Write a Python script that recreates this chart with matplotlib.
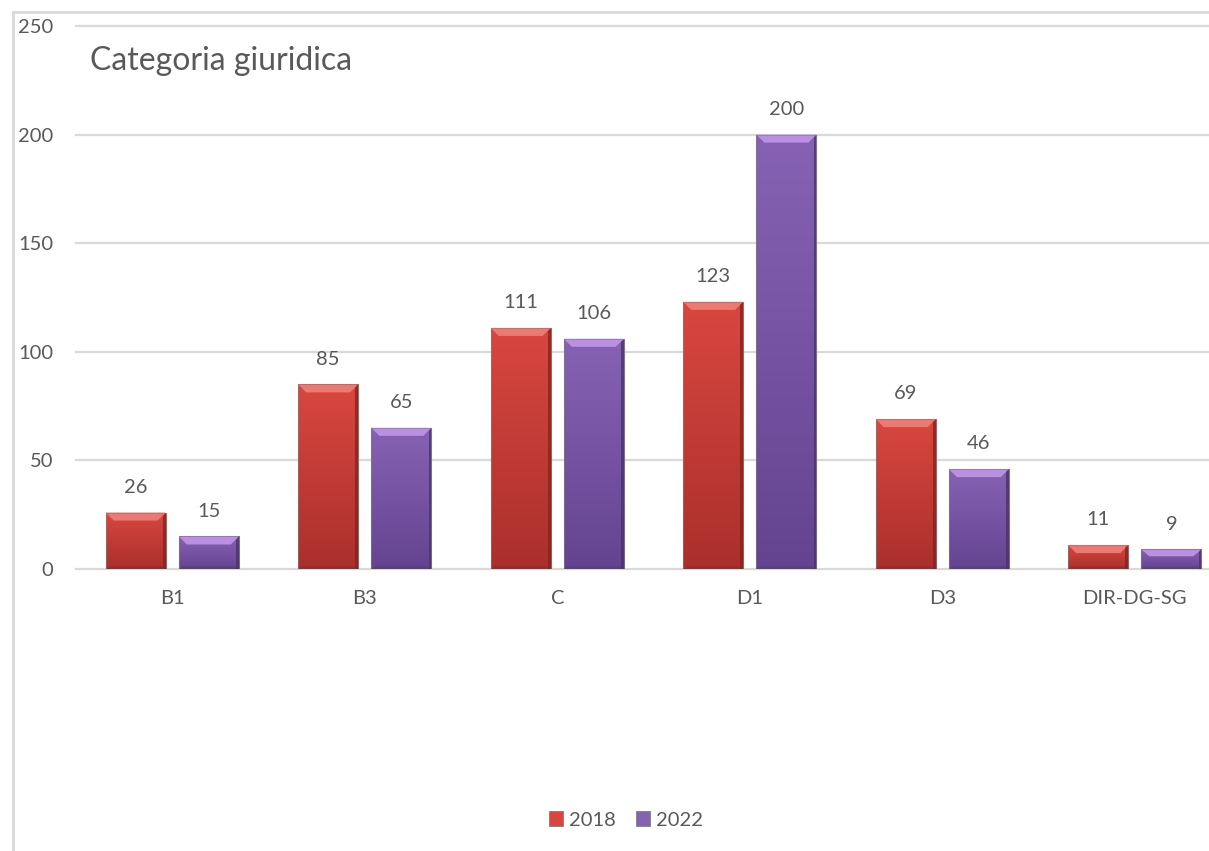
import numpy as np
import matplotlib
matplotlib.use('Agg')
import matplotlib.pyplot as plt
from matplotlib.colors import to_rgb
from matplotlib.patches import Polygon, Patch
from matplotlib.lines import Line2D

plt.rcParams['font.family'] = ['Lato', 'DejaVu Sans']

categories = ['B1', 'B3', 'C', 'D1', 'D3', 'DIR-DG-SG']
years = ['2018', '2022']
vals_2018 = [26, 85, 111, 123, 69, 11]
vals_2022 = [15, 65, 106, 200, 46, 9]
yticks = [0, 50, 100, 150, 200, 250]

# colours: body top, body bottom, bevel light, dark side
red = dict(top='#d8473f', bot='#ab2f2c', light='#ea7a74', dark='#87221f')
purple = dict(top='#8762b4', bot='#644491', light='#bb90e2', dark='#4a326c')

W, H = 1209, 851
fig = plt.figure(figsize=(W / 100, H / 100), dpi=100)
ax = fig.add_axes([76 / W, (H - 569) / H, (1231 - 76) / W, 543 / H])

grid_col = '#d9d9d9'
text_col = '#595959'
fs = 14.5


def fancy_bar(ax, patch, c):
    x, w, h = patch.get_x(), patch.get_width(), patch.get_height()
    n = 64
    t = np.linspace(0, 1, n)[:, None]
    ctop = np.array(to_rgb(c['top']))
    cbot = np.array(to_rgb(c['bot']))
    img = (cbot * (1 - t) + ctop * t)[:, None, :]
    im = ax.imshow(img, extent=(x, x + w, 0, h), origin='lower', aspect='auto',
                   interpolation='bilinear', zorder=3)
    im.set_clip_path(patch)
    dx = 0.042
    dy = min(3.7, h * 0.35)
    # top bevel
    ax.add_patch(Polygon([(x, h), (x + w, h), (x + w - dx, h - dy), (x + dx, h - dy)],
                         closed=True, fc=c['light'], ec='none', zorder=4))
    # right side darker
    ax.add_patch(Polygon([(x + w, h), (x + w, 0), (x + w - dx * 0.35, 0), (x + w - dx * 0.35, h - dy * 0.4)],
                         closed=True, fc=c['dark'], ec='none', alpha=0.8, zorder=4))
    # bottom bevel
    ax.add_patch(Polygon([(x, 0), (x + w, 0), (x + w - dx * 0.5, dy * 0.35), (x + dx * 0.5, dy * 0.35)],
                         closed=True, fc=c['dark'], ec='none', alpha=0.35, zorder=4))
    # outline
    ax.add_patch(Polygon([(x, 0), (x, h), (x + w, h), (x + w, 0)], closed=True,
                         fc='none', ec='#7f7f7f', lw=0.8, alpha=0.6, zorder=5))
    # soft shadow
    ax.add_patch(Polygon([(x + 0.004, -0.9), (x + w + 0.004, -0.9), (x + w + 0.004, h - 1), (x + 0.004, h - 1)],
                         closed=True, fc='#bfbfbf', ec='none', alpha=0.5, zorder=2.5))


xpos = np.arange(len(categories))
bw = 0.312
off = 0.19

for vals, col, sign, yr in [(vals_2018, red, -1, years[0]), (vals_2022, purple, 1, years[1])]:
    bars = ax.bar(xpos + sign * off, vals, width=bw, color='none', edgecolor='none',
                  zorder=3, label=yr)
    for p, v in zip(bars.patches, vals):
        fancy_bar(ax, p, col)
        ax.annotate(str(v), (p.get_x() + p.get_width() / 2, v), xytext=(0, 12),
                    textcoords='offset points', ha='center', va='bottom',
                    fontsize=fs, color=text_col, zorder=6)

for yv in yticks:
    ax.axhline(yv, color=grid_col, lw=1.6, zorder=1, clip_on=False)

ax.set_xlim(-0.5, len(categories) - 0.5)
ax.set_ylim(0, 250)
ax.set_yticks(yticks)
ax.set_xticks(xpos)
ax.set_xticklabels(categories)
ax.tick_params(axis='y', length=0, pad=16.5, labelsize=fs, labelcolor=text_col)
ax.tick_params(axis='x', length=0, pad=15, labelsize=fs, labelcolor=text_col)
for s in ax.spines.values():
    s.set_visible(False)

fig.text(90 / W, (H - 61) / H, 'Categoria giuridica',
         fontsize=23, color=text_col, ha='left', va='center')

# legend with small square handles
handles = [Patch(fc=red['top'], ec='#7f7f7f', lw=0.6), Patch(fc=purple['top'], ec='#7f7f7f', lw=0.6)]
fig.legend(handles, years, loc='center', bbox_to_anchor=(626 / W, (H - 820) / H), ncol=2,
           frameon=False, fontsize=fs, labelcolor=text_col, handlelength=0.7, handleheight=0.7,
           handletextpad=0.3, columnspacing=1.0)

# chart border (left and top visible)
fig.add_artist(Line2D([13 / W, 13 / W], [0, (H - 12) / H], color=grid_col, lw=2, transform=fig.transFigure))
fig.add_artist(Line2D([13 / W, 1], [(H - 12) / H, (H - 12) / H], color=grid_col, lw=2, transform=fig.transFigure))

fig.savefig('out.png', dpi=100)
